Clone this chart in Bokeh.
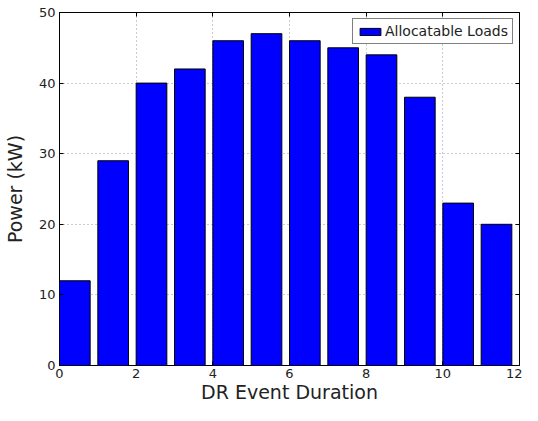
from bokeh.plotting import figure
from bokeh.models import ColumnDataSource, Range1d, LinearAxis, FixedTicker, Legend, LegendItem
from bokeh.embed import file_html
from bokeh.resources import INLINE

hours = [0, 1, 2, 3, 4, 5, 6, 7, 8, 9, 10, 11]
power = [12, 29, 40, 42, 46, 47, 46, 45, 44, 38, 23, 20]
series_name = "Allocatable Loads"
x_ticks = [0, 2, 4, 6, 8, 10, 12]
y_ticks = [0, 10, 20, 30, 40, 50]

bar_width = 0.8
src = ColumnDataSource(dict(x=[h + bar_width / 2 for h in hours], top=power))

FONT = "DejaVu Sans"
p = figure(width=522, height=405, output_backend="svg", toolbar_location=None,
           x_range=Range1d(0, 12), y_range=Range1d(0, 50),
           min_border_left=51, min_border_right=3, min_border_top=12, min_border_bottom=30)
p.background_fill_color = "white"
p.border_fill_color = "white"
p.outline_line_color = "black"
p.outline_line_width = 1

r = p.vbar(x="x", top="top", width=bar_width, bottom=0, source=src,
           fill_color="#0000ff", line_color="black", line_width=1)

for ax, ticks in ((p.xaxis[0], x_ticks), (p.yaxis[0], y_ticks)):
    ax.ticker = FixedTicker(ticks=ticks)
    ax.major_tick_in = 4
    ax.major_tick_out = 0
    ax.minor_tick_line_color = None
    ax.axis_line_color = None
    ax.major_label_text_font = FONT
    ax.major_label_text_font_size = "13px"
    ax.major_label_text_color = "#222222"
    ax.axis_label_text_font = FONT
    ax.axis_label_text_font_size = "19px"
    ax.axis_label_text_font_style = "normal"
    ax.axis_label_text_color = "#222222"
    ax.major_tick_line_color = "black"

p.xaxis.axis_label = "DR Event Duration"
p.yaxis.axis_label = "Power (kW)"
p.xaxis.major_label_standoff = 3
p.yaxis.major_label_standoff = 4
p.xaxis.axis_label_standoff = 0
p.yaxis.axis_label_standoff = 10

# mirrored ticks on top/right
top_ax = LinearAxis(ticker=FixedTicker(ticks=x_ticks), major_tick_in=4, major_tick_out=0,
                    minor_tick_line_color=None, axis_line_color=None,
                    major_label_text_font_size="0px", major_label_text_color=None,
                    major_label_standoff=0)
right_ax = LinearAxis(ticker=FixedTicker(ticks=y_ticks), major_tick_in=4, major_tick_out=0,
                      minor_tick_line_color=None, axis_line_color=None,
                      major_label_text_font_size="0px", major_label_text_color=None,
                      major_label_standoff=0)
p.add_layout(top_ax, "above")
p.add_layout(right_ax, "right")

for g, ticks in ((p.xgrid[0], x_ticks), (p.ygrid[0], y_ticks)):
    g.ticker = FixedTicker(ticks=ticks)
    g.grid_line_color = "black"
    g.grid_line_alpha = 0.4
    g.grid_line_dash = "1 3"
    g.grid_line_width = 1

legend = Legend(items=[LegendItem(label=series_name, renderers=[r])], location="top_right")
legend.label_text_font = FONT
legend.label_text_font_size = "14px"
legend.label_text_color = "#222222"
legend.glyph_width = 26
legend.glyph_height = 9
legend.label_standoff = 2
legend.padding = 4
legend.spacing = 0
legend.margin = 6
legend.border_line_color = "black"
legend.border_line_width = 1
legend.background_fill_color = "white"
legend.background_fill_alpha = 1
legend.label_height = 14
p.add_layout(legend)

open("out.html", "w").write(file_html(p, INLINE))
